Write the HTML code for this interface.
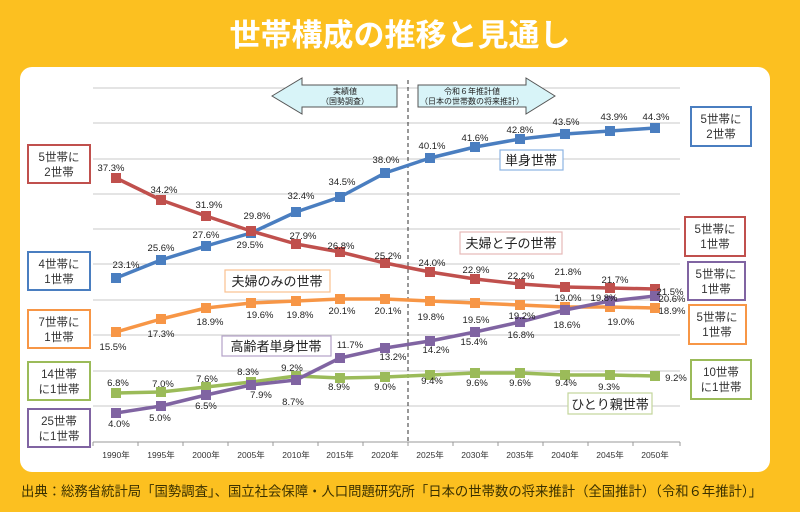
<!DOCTYPE html>
<html><head><meta charset="utf-8"><style>
html,body{margin:0;padding:0;background:#FCC020;}
svg{display:block}
text{font-family:"Liberation Sans","Noto Sans CJK JP",sans-serif;}
</style></head><body>
<svg width="800" height="512" viewBox="0 0 800 512" xmlns="http://www.w3.org/2000/svg">
<rect width="800" height="512" fill="#FCC020"/>
<text x="400" y="46" text-anchor="middle" font-size="31" font-weight="bold" fill="#fff">世帯構成の推移と見通し</text>
<rect x="20" y="67" width="750" height="405" rx="12" fill="#fff"/>
<g stroke="#c8c8c8" stroke-width="1">
<line x1="93" y1="88" x2="680" y2="88"/><line x1="93" y1="123" x2="680" y2="123"/>
<line x1="93" y1="159" x2="680" y2="159"/><line x1="93" y1="194" x2="680" y2="194"/>
<line x1="93" y1="229" x2="680" y2="229"/><line x1="93" y1="264" x2="680" y2="264"/>
<line x1="93" y1="300" x2="680" y2="300"/><line x1="93" y1="335" x2="680" y2="335"/>
<line x1="93" y1="371" x2="680" y2="371"/><line x1="93" y1="406" x2="680" y2="406"/>
</g>
<g stroke="#999" stroke-width="1">
<line x1="93" y1="442" x2="680" y2="442"/>
<line x1="93" y1="442" x2="93" y2="446"/><line x1="138" y1="442" x2="138" y2="446"/><line x1="183" y1="442" x2="183" y2="446"/><line x1="228" y1="442" x2="228" y2="446"/><line x1="273" y1="442" x2="273" y2="446"/><line x1="318" y1="442" x2="318" y2="446"/><line x1="363" y1="442" x2="363" y2="446"/><line x1="408" y1="442" x2="408" y2="446"/><line x1="453" y1="442" x2="453" y2="446"/><line x1="498" y1="442" x2="498" y2="446"/><line x1="543" y1="442" x2="543" y2="446"/><line x1="588" y1="442" x2="588" y2="446"/><line x1="633" y1="442" x2="633" y2="446"/><line x1="680" y1="442" x2="680" y2="446"/>
</g>
<line x1="408" y1="80" x2="408" y2="442" stroke="#333" stroke-dasharray="4,3"/>
<g font-size="8.5" fill="#333" text-anchor="middle">
<text x="116" y="458">1990年</text><text x="161" y="458">1995年</text><text x="206" y="458">2000年</text><text x="251" y="458">2005年</text><text x="296" y="458">2010年</text><text x="340" y="458">2015年</text><text x="385" y="458">2020年</text><text x="430" y="458">2025年</text><text x="475" y="458">2030年</text><text x="520" y="458">2035年</text><text x="565" y="458">2040年</text><text x="610" y="458">2045年</text><text x="655" y="458">2050年</text>
</g>
<polygon points="272,96 302,78 302,85 397,85 397,107 302,107 302,114" fill="#D8F4F8" stroke="#555" stroke-width="1"/>
<polygon points="555,96 526,78 526,85 418,85 418,107 526,107 526,114" fill="#D8F4F8" stroke="#555" stroke-width="1"/>
<g font-size="8" fill="#222" text-anchor="middle">
<text x="345" y="94">実績値</text><text x="345" y="104">（国勢調査）</text>
<text x="472" y="94">令和６年推計値</text><text x="472" y="104">（日本の世帯数の将来推計）</text>
</g>
<g fill="none" stroke-width="3.5" stroke-linejoin="round">
<polyline stroke="#4A7EC0" points="116,278 161,260 206,246 251,233 296,212 340,197 385,173 430,158 475,147 520,139 565,134 610,131 655,128"/>
<polyline stroke="#C0504D" points="116,178 161,200 206,216 251,231 296,244 340,252 385,263 430,272 475,279 520,284 565,287 610,288 655,289"/>
<polyline stroke="#F79646" points="116,332 161,319 206,308 251,303 296,301 340,299 385,299 430,301 475,303 520,305 565,307 610,307 655,308"/>
<polyline stroke="#9BBB59" points="116,393 161,392 206,387 251,382 296,376 340,378 385,377 430,375 475,373 520,373 565,375 610,375 655,376"/>
<polyline stroke="#8064A2" points="116,413 161,406 206,395 251,385 296,380 340,358 385,348 430,341 475,332 520,322 565,310 610,301 655,296"/>
</g>
<g fill="#4A7EC0"><rect x="111" y="273" width="10" height="10"/><rect x="156" y="255" width="10" height="10"/><rect x="201" y="241" width="10" height="10"/><rect x="246" y="228" width="10" height="10"/><rect x="291" y="207" width="10" height="10"/><rect x="335" y="192" width="10" height="10"/><rect x="380" y="168" width="10" height="10"/><rect x="425" y="153" width="10" height="10"/><rect x="470" y="142" width="10" height="10"/><rect x="515" y="134" width="10" height="10"/><rect x="560" y="129" width="10" height="10"/><rect x="605" y="126" width="10" height="10"/><rect x="650" y="123" width="10" height="10"/></g>
<g fill="#C0504D"><rect x="111" y="173" width="10" height="10"/><rect x="156" y="195" width="10" height="10"/><rect x="201" y="211" width="10" height="10"/><rect x="246" y="226" width="10" height="10"/><rect x="291" y="239" width="10" height="10"/><rect x="335" y="247" width="10" height="10"/><rect x="380" y="258" width="10" height="10"/><rect x="425" y="267" width="10" height="10"/><rect x="470" y="274" width="10" height="10"/><rect x="515" y="279" width="10" height="10"/><rect x="560" y="282" width="10" height="10"/><rect x="605" y="283" width="10" height="10"/><rect x="650" y="284" width="10" height="10"/></g>
<g fill="#F79646"><rect x="111" y="327" width="10" height="10"/><rect x="156" y="314" width="10" height="10"/><rect x="201" y="303" width="10" height="10"/><rect x="246" y="298" width="10" height="10"/><rect x="291" y="296" width="10" height="10"/><rect x="335" y="294" width="10" height="10"/><rect x="380" y="294" width="10" height="10"/><rect x="425" y="296" width="10" height="10"/><rect x="470" y="298" width="10" height="10"/><rect x="515" y="300" width="10" height="10"/><rect x="560" y="302" width="10" height="10"/><rect x="605" y="302" width="10" height="10"/><rect x="650" y="303" width="10" height="10"/></g>
<g fill="#9BBB59"><rect x="111" y="388" width="10" height="10"/><rect x="156" y="387" width="10" height="10"/><rect x="201" y="382" width="10" height="10"/><rect x="246" y="377" width="10" height="10"/><rect x="291" y="371" width="10" height="10"/><rect x="335" y="373" width="10" height="10"/><rect x="380" y="372" width="10" height="10"/><rect x="425" y="370" width="10" height="10"/><rect x="470" y="368" width="10" height="10"/><rect x="515" y="368" width="10" height="10"/><rect x="560" y="370" width="10" height="10"/><rect x="605" y="370" width="10" height="10"/><rect x="650" y="371" width="10" height="10"/></g>
<g fill="#8064A2"><rect x="111" y="408" width="10" height="10"/><rect x="156" y="401" width="10" height="10"/><rect x="201" y="390" width="10" height="10"/><rect x="246" y="380" width="10" height="10"/><rect x="291" y="375" width="10" height="10"/><rect x="335" y="353" width="10" height="10"/><rect x="380" y="343" width="10" height="10"/><rect x="425" y="336" width="10" height="10"/><rect x="470" y="327" width="10" height="10"/><rect x="515" y="317" width="10" height="10"/><rect x="560" y="305" width="10" height="10"/><rect x="605" y="296" width="10" height="10"/><rect x="650" y="291" width="10" height="10"/></g>
<g font-size="9.5" fill="#222" text-anchor="middle">
<text x="126" y="268">23.1%</text><text x="161" y="251">25.6%</text><text x="206" y="238">27.6%</text><text x="250" y="248">29.5%</text><text x="301" y="199">32.4%</text><text x="342" y="185">34.5%</text><text x="386" y="163">38.0%</text><text x="432" y="149">40.1%</text><text x="475" y="141">41.6%</text><text x="520" y="133">42.8%</text><text x="566" y="125">43.5%</text><text x="614" y="120">43.9%</text><text x="656" y="120">44.3%</text>
<text x="111" y="171">37.3%</text><text x="164" y="193">34.2%</text><text x="209" y="208">31.9%</text><text x="257" y="219">29.8%</text><text x="303" y="239">27.9%</text><text x="341" y="249">26.8%</text><text x="388" y="259">25.2%</text><text x="432" y="266">24.0%</text><text x="476" y="273">22.9%</text><text x="521" y="279">22.2%</text><text x="568" y="275">21.8%</text><text x="615" y="283">21.7%</text><text x="670" y="295">21.5%</text>
<text x="113" y="350">15.5%</text><text x="161" y="337">17.3%</text><text x="210" y="325">18.9%</text><text x="260" y="318">19.6%</text><text x="300" y="318">19.8%</text><text x="342" y="314">20.1%</text><text x="388" y="314">20.1%</text><text x="431" y="320">19.8%</text><text x="476" y="323">19.5%</text><text x="522" y="319">19.2%</text><text x="568" y="301">19.0%</text><text x="621" y="325">19.0%</text><text x="672" y="314">18.9%</text>
<text x="119" y="427">4.0%</text><text x="160" y="421">5.0%</text><text x="206" y="409">6.5%</text><text x="261" y="398">7.9%</text><text x="293" y="405">8.7%</text><text x="350" y="348">11.7%</text><text x="393" y="360">13.2%</text><text x="436" y="353">14.2%</text><text x="474" y="345">15.4%</text><text x="521" y="338">16.8%</text><text x="567" y="328">18.6%</text><text x="604" y="301">19.8%</text><text x="672" y="302">20.6%</text>
<text x="118" y="386">6.8%</text><text x="163" y="387">7.0%</text><text x="207" y="382">7.6%</text><text x="248" y="375">8.3%</text><text x="292" y="371">9.2%</text><text x="339" y="390">8.9%</text><text x="385" y="390">9.0%</text><text x="432" y="384">9.4%</text><text x="477" y="386">9.6%</text><text x="520" y="386">9.6%</text><text x="566" y="386">9.4%</text><text x="609" y="390">9.3%</text><text x="676" y="381">9.2%</text>
</g>
<g fill="#fff" stroke-width="1.2">
<rect x="500" y="150" width="63" height="20" stroke="#8DB3E2"/>
<rect x="460" y="232" width="102" height="22" stroke="#E6B9B8"/>
<rect x="225" y="270" width="105" height="22" stroke="#FAC090"/>
<rect x="222" y="336" width="109" height="20" stroke="#B3A2C7"/>
<rect x="568" y="393" width="84" height="21" stroke="#C3D69B"/>
</g>
<g font-size="13" fill="#222" text-anchor="middle">
<text x="531" y="165">単身世帯</text><text x="511" y="248">夫婦と子の世帯</text><text x="277" y="286">夫婦のみの世帯</text><text x="276" y="351">高齢者単身世帯</text><text x="610" y="409">ひとり親世帯</text>
</g>
<g fill="#fff" stroke-width="2">
<rect x="28" y="145" width="62" height="38" stroke="#C0504D"/>
<rect x="28" y="252" width="62" height="38" stroke="#4A7EC0"/>
<rect x="28" y="310" width="62" height="38" stroke="#F79646"/>
<rect x="28" y="362" width="62" height="38" stroke="#9BBB59"/>
<rect x="28" y="409" width="62" height="38" stroke="#8064A2"/>
<rect x="691" y="107" width="60" height="39" stroke="#4A7EC0"/>
<rect x="685" y="217" width="60" height="39" stroke="#C0504D"/>
<rect x="688" y="262" width="57" height="38" stroke="#8064A2"/>
<rect x="689" y="305" width="57" height="39" stroke="#F79646"/>
<rect x="691" y="360" width="60" height="39" stroke="#9BBB59"/>
</g>
<g font-size="11.5" fill="#333" text-anchor="middle">
<text x="59" y="161">5世帯に</text><text x="59" y="176">2世帯</text>
<text x="59" y="268">4世帯に</text><text x="59" y="283">1世帯</text>
<text x="59" y="326">7世帯に</text><text x="59" y="341">1世帯</text>
<text x="59" y="378">14世帯</text><text x="59" y="393">に1世帯</text>
<text x="59" y="425">25世帯</text><text x="59" y="440">に1世帯</text>
<text x="721" y="123">5世帯に</text><text x="721" y="138">2世帯</text>
<text x="715" y="233">5世帯に</text><text x="715" y="248">1世帯</text>
<text x="716" y="278">5世帯に</text><text x="716" y="293">1世帯</text>
<text x="717" y="321">5世帯に</text><text x="717" y="336">1世帯</text>
<text x="721" y="376">10世帯</text><text x="721" y="391">に1世帯</text>
</g>
<text x="21" y="496" font-size="13.5" fill="#3a3000" textLength="741" lengthAdjust="spacingAndGlyphs">出典：総務省統計局「国勢調査」、国立社会保障・人口問題研究所「日本の世帯数の将来推計（全国推計）（令和６年推計）」</text>
</svg>
</body></html>
